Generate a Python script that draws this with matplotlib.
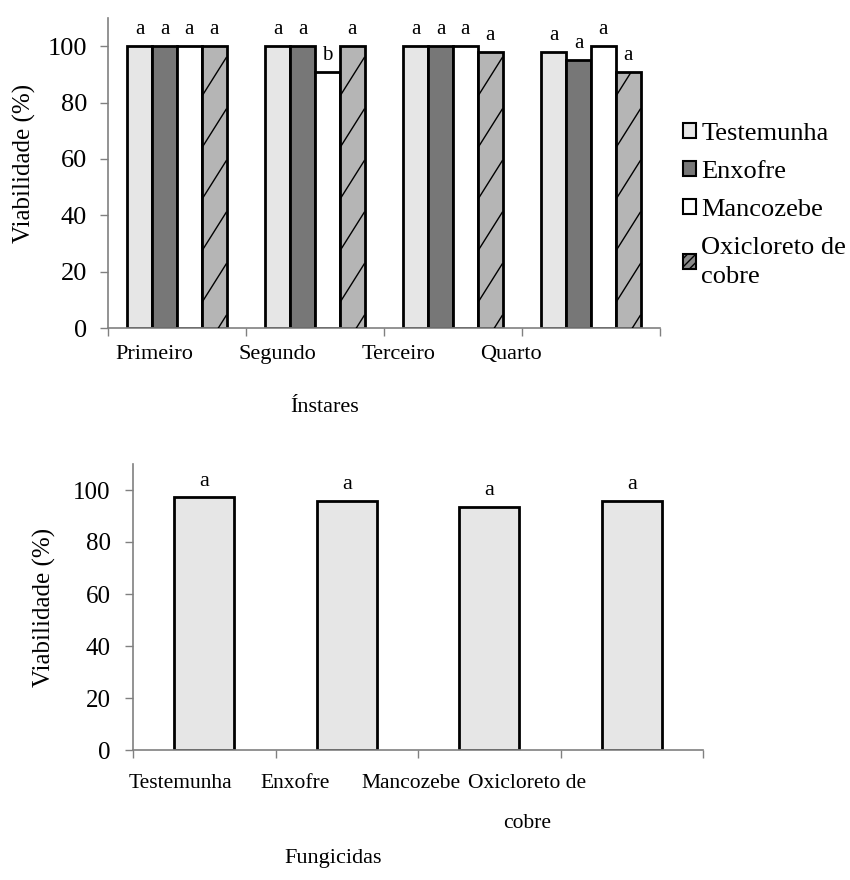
import numpy as np
import matplotlib
matplotlib.use("Agg")
import matplotlib.pyplot as plt
from matplotlib.patches import Patch
from matplotlib.transforms import ScaledTranslation

plt.rcParams['font.family'] = ['Liberation Serif', 'DejaVu Serif']

# ---------------- data ----------------
instares = ["Primeiro", "Segundo", "Terceiro", "Quarto"]
series_names = ["Testemunha", "Enxofre", "Mancozebe", "Oxicloreto de\ncobre"]
testemunha = [100, 100, 100, 98]
enxofre = [100, 100, 100, 95]
mancozebe = [100, 91, 100, 100]
oxicloreto = [100, 100, 98, 91]
letters_top = [["a", "a", "a", "a"],
               ["a", "a", "b", "a"],
               ["a", "a", "a", "a"],
               ["a", "a", "a", "a"]]

fungicidas = ["Testemunha", "Enxofre", "Mancozebe", "Oxicloreto de\ncobre"]
viab_fung = [97.3, 95.8, 93.5, 95.8]
letters_bot = ["a", "a", "a", "a"]

yticks = [0, 20, 40, 60, 80, 100]

# ---------------- styles ----------------
colors = ["#e6e6e6", "#777777", "#ffffff", "#b5b5b5"]
spine_col = "#808080"

fig = plt.figure(figsize=(8.5, 8.8), dpi=100)

# ---------------- top chart ----------------
ax1 = fig.add_axes([108/850, 1-328/880, 552/850, 310/880])
x = np.arange(len(instares))
w = 0.18
all_series = [testemunha, enxofre, mancozebe, oxicloreto]
bar_sets = []
for i, (vals, c) in enumerate(zip(all_series, colors)):
    bars = ax1.bar(x + (i - 1.5) * w, vals, width=w, color=c,
                   edgecolor="black", linewidth=2.0, zorder=2)
    bar_sets.append(bars)

# sparse steep hatch lines on oxicloreto bars
for b in bar_sets[3]:
    x0, bw, h = b.get_x(), b.get_width(), b.get_height()
    for c0 in np.arange(9 - 18.3 * 2, h + 1, 18.3):
        ln, = ax1.plot([x0, x0 + bw], [c0, c0 + 14], color="black",
                       linewidth=1.0, zorder=3, solid_capstyle="butt")
        ln.set_clip_path(b)

# letters
for i, bars in enumerate(bar_sets):
    for j, b in enumerate(bars):
        ax1.text(b.get_x() + b.get_width() / 2, b.get_height() + 2.5,
                 letters_top[j][i], ha="center", va="bottom", fontsize=15)

ax1.set_xlim(-0.5, 3.5)
ax1.set_ylim(0, 110)
ax1.set_yticks(yticks)
ax1.tick_params(axis="y", labelsize=19, length=6, color=spine_col, width=1, pad=9)
ax1.set_xticks(np.arange(-0.5, 4.0, 1.0), minor=True)
ax1.set_xticks(x)
ax1.set_xticklabels(instares, fontsize=16)
ax1.tick_params(axis="x", which="major", length=0, pad=12)
ax1.tick_params(axis="x", which="minor", length=6, color=spine_col, width=1)
top_label_shift = [-23, -38, -54, -80]
for lab, dx in zip(ax1.get_xticklabels(), top_label_shift):
    lab.set_transform(lab.get_transform() + ScaledTranslation(dx/100, 0, fig.dpi_scale_trans))
for s in ["top", "right"]:
    ax1.spines[s].set_visible(False)
for s in ["left", "bottom"]:
    ax1.spines[s].set_color(spine_col)
    ax1.spines[s].set_linewidth(1.2)
ax1.set_ylabel("Viabilidade (%)", fontsize=18, va="center")
ax1.yaxis.set_label_coords((24-108)/552, 0.53)
ax1.set_xlabel("Ínstares", fontsize=16, va="center")
ax1.xaxis.set_label_coords((325-108)/552, -(407-328)/310)

handles = [Patch(facecolor=c, edgecolor="black", linewidth=1.5) for c in colors]
handles[3] = Patch(facecolor="#888888", edgecolor="black", linewidth=1.5, hatch="////")
leg = fig.legend(handles, series_names, loc="upper left",
                 bbox_to_anchor=(683/850, 1-123/880), frameon=False,
                 prop={"size": 19}, handlelength=0.5, handleheight=0.5,
                 handletextpad=0.2, labelspacing=0.6, borderpad=0, borderaxespad=0)
leg.get_texts()[3].set_linespacing(1.45)

# ---------------- bottom chart ----------------
ax2 = fig.add_axes([133/850, 1-750/880, 570/850, 286/880])
xb = np.arange(len(fungicidas))
bars2 = ax2.bar(xb, viab_fung, width=0.42, color="#e6e6e6",
                edgecolor="black", linewidth=2.0, zorder=2)
for b, t in zip(bars2, letters_bot):
    ax2.text(b.get_x() + b.get_width() / 2, b.get_height() + 2.5, t,
             ha="center", va="bottom", fontsize=16)
ax2.set_xlim(-0.5, 3.5)
ax2.set_ylim(0, 110)
ax2.set_yticks(yticks)
ax2.tick_params(axis="y", labelsize=18, length=6, color=spine_col, width=1, pad=10)
ax2.set_xticks(np.arange(-0.5, 4.0, 1.0), minor=True)
ax2.set_xticks(xb)
ax2.set_xticklabels(fungicidas, fontsize=15.5, linespacing=2.5)
ax2.tick_params(axis="x", which="major", length=0, pad=17)
ax2.tick_params(axis="x", which="minor", length=6, color=spine_col, width=1)
bot_label_shift = [-24, -52, -78, -105]
for lab, dx in zip(ax2.get_xticklabels(), bot_label_shift):
    lab.set_transform(lab.get_transform() + ScaledTranslation(dx/100, 0, fig.dpi_scale_trans))
for s in ["top", "right"]:
    ax2.spines[s].set_visible(False)
for s in ["left", "bottom"]:
    ax2.spines[s].set_color(spine_col)
    ax2.spines[s].set_linewidth(1.2)
ax2.set_ylabel("Viabilidade (%)", fontsize=18, va="center")
ax2.yaxis.set_label_coords((44-133)/570, 0.5)
ax2.set_xlabel("Fungicidas", fontsize=16, va="center")
ax2.xaxis.set_label_coords((333-133)/570, -(858-750)/286)

fig.savefig("out.png", dpi=100)
